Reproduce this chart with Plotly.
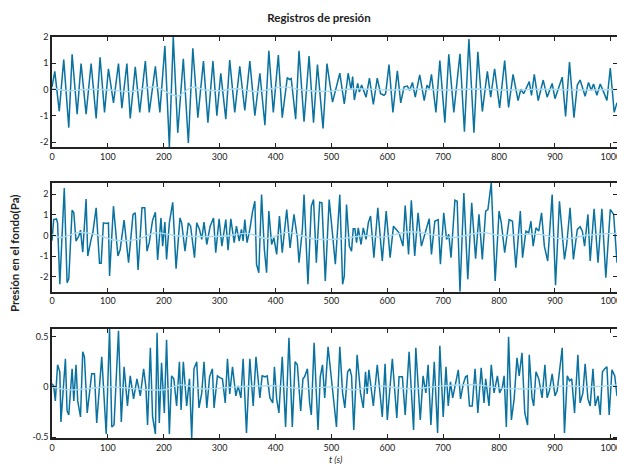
import plotly.graph_objects as go

# ---------------- data ----------------
t1 = [0,5,13,21,30,36,45,52,61,70,79,86,94,101,110,119,125,134,140,149,157,167,174,185,193,
      202,210,217,225,235,244,252,261,271,279,288,295,302,311,318,327,336,345,354,363,372,381,
      388,396,405,412,421,425,428,436,442,451,460,468,475,485,492,502,515,523,530,535,538,541,
      547,550,554,562,568,575,582,588,594,597,603,610,618,624,630,636,640,645,650,658,666,671,
      675,679,687,694,703,710,719,730,738,746,755,762,770,779,785,792,801,810,817,825,834,839,
      844,854,858,863,870,879,886,895,900,913,919,926,934,940,945,954,960,965,969,975,981,987,
      993,999,1006,1011]
p1 = [0.1,0.69,-0.83,1.14,-1.45,1.34,-0.94,0.99,-0.94,0.99,-1.1,1.23,-0.87,0.79,-0.51,0.99,
      -0.71,0.99,-1.1,0.86,-0.87,1.08,-0.87,0.88,-0.87,1.66,-2.19,2.0,-1.65,1.17,-2.04,1.57,
      -1.07,1.08,-1.26,1.08,-1.0,0.62,-1.13,1.12,-0.87,0.88,-0.8,1.08,-1.0,0.62,-1.36,1.47,
      -0.87,1.31,-1.07,0.45,0.38,0.42,-1.13,1.47,-1.23,1.27,-1.26,0.95,-1.48,0.99,-0.48,0.62,
      -0.55,0.62,0.0,0.49,-0.4,0.23,-0.1,0.17,-0.29,0.43,-0.57,0.43,-0.16,-0.22,-0.16,0.95,
      -0.87,0.71,-0.51,0.1,0.13,-0.03,0.27,-0.29,0.56,-0.42,0.17,0.04,0.58,-0.87,1.1,-1.26,
      1.34,-0.87,1.36,-1.61,1.92,-1.65,1.44,-0.84,0.69,-0.29,0.79,-0.7,1.1,-0.68,0.58,-0.42,
      0.01,-0.16,0.3,-0.22,0.58,-0.42,0.36,-0.29,0.23,-0.35,0.47,-1.03,1.05,-1.07,0.17,0.36,
      -0.26,0.27,-0.03,0.21,-0.22,0.21,-0.09,-0.42,0.82,-0.87,-0.5]
t1_low = [0,30,60,90,110,140,185,205,225,250,275,300,330,365,415,450,490,540,600,650,700,760,
          820,880,940,1011]
p1_low = [0.05,-0.05,0.0,0.0,-0.03,-0.08,0.1,-0.1,-0.25,0.08,-0.02,-0.05,0.03,-0.08,0.1,-0.03,
          -0.07,0.03,-0.02,0.02,-0.02,0.02,-0.02,0.01,-0.02,0.0]

t2 = [0,3,8,10,14,22,27,30,36,39,43,48,51,55,61,64,70,73,79,85,88,92,97,101,103,110,118,122,
      129,137,145,149,154,161,166,170,174,180,185,189,195,198,202,205,210,216,222,229,232,238,
      244,248,255,259,264,268,272,277,283,289,293,299,304,308,311,315,320,326,330,335,339,342,
      345,349,354,359,363,366,370,375,380,384,388,393,397,402,407,412,420,426,433,439,442,448,
      451,458,464,468,473,479,483,489,496,502,507,515,520,523,527,532,536,539,542,545,548,553,
      557,562,566,570,576,583,591,598,605,611,616,621,628,632,638,643,649,655,661,669,675,679,
      685,691,695,701,706,710,714,721,725,730,737,744,751,758,764,770,776,780,786,793,800,804,
      810,818,824,830,838,842,848,853,857,861,866,871,876,881,887,895,901,908,917,921,927,933,
      940,945,949,953,959,963,970,977,984,991,999,1005,1011]
p2 = [-0.25,0.77,0.8,0.6,-2.37,2.3,-2.29,-2.1,1.23,1.1,-0.27,-0.03,0.26,-0.81,1.77,-1.0,-0.19,
      0.13,1.34,-1.35,-1.35,0.61,0.58,0.61,-1.97,1.42,-1.0,-0.68,0.74,-1.32,1.02,1.1,-1.68,1.34,
      1.34,-0.76,-0.35,0.74,1.13,-1.19,0.85,-0.52,0.65,-1.16,0.61,1.61,-1.61,0.85,0.61,-0.76,
      0.61,0.45,-1.08,0.61,0.29,-0.19,0.65,-0.44,0.45,0.85,-0.84,0.81,-0.52,0.29,0.77,-0.71,
      0.81,-0.35,0.45,-0.27,0.29,-0.27,0.77,-0.35,0.29,1.18,1.66,-1.4,-1.81,1.98,-0.68,-1.81,
      1.18,-0.44,-0.11,-0.92,0.94,-0.84,1.26,-0.6,1.02,-0.11,-1.32,0.29,1.98,-2.37,1.42,1.74,
      -1.32,1.61,1.58,-2.21,1.74,0.05,-1.4,1.98,-2.37,-1.97,1.5,-0.52,-0.76,0.32,0.32,-0.35,
      0.37,-0.44,0.37,-0.19,0.61,0.94,-1.08,1.34,-1.24,1.18,-1.08,0.45,0.26,0.13,-0.52,1.45,
      -0.92,1.71,-1.0,1.1,-0.52,0.21,0.81,-0.92,0.69,0.77,-1.4,1.1,-0.19,0.05,-1.08,1.71,1.66,
      -2.73,2.06,-2.13,1.58,-1.13,1.02,-1.16,1.18,1.26,2.56,-2.21,1.18,0.61,-0.84,0.77,0.69,
      -1.56,1.18,-1.08,0.21,0.13,0.69,-0.52,0.37,0.21,1.1,-0.52,-1.24,1.98,-2.42,1.66,-1.16,
      -0.44,1.34,-1.16,0.29,0.42,0.21,-0.52,1.02,-1.24,1.29,-1.32,1.29,-2.05,1.26,1.02,-1.32]
t2_low = [0,15,50,85,110,150,185,220,270,310,350,385,420,470,520,560,590,640,690,720,770,800,
          840,875,915,960,1011]
p2_low = [0.05,-0.1,0.15,0.0,-0.22,-0.2,0.12,0.0,-0.05,-0.03,0.1,-0.15,0.15,-0.18,-0.15,0.0,
          -0.08,0.18,0.0,-0.1,0.15,0.0,0.05,0.05,-0.18,0.02,0.1]

t3 = [0,3,6,10,14,16,24,27,30,36,39,43,46,51,55,58,63,67,71,76,80,89,92,97,103,107,111,119,124,
      129,135,140,146,152,158,164,168,171,176,180,185,188,192,196,201,205,210,214,218,223,228,
      231,235,241,246,250,254,259,263,268,272,277,282,287,290,296,301,305,310,314,318,323,329,
      333,338,342,348,354,360,365,372,376,381,385,390,395,398,402,406,412,418,424,430,435,439,
      445,449,452,457,461,464,469,476,480,484,488,494,500,505,509,515,520,524,529,533,536,540,
      546,552,557,561,564,567,575,582,591,596,600,609,617,621,627,632,639,647,651,659,664,669,
      673,678,684,690,694,700,705,709,713,717,722,727,731,736,740,743,747,752,757,762,768,773,
      776,782,786,791,797,801,806,809,813,817,822,827,832,836,841,846,851,854,859,862,866,871,
      877,882,886,890,895,900,904,908,913,917,922,926,930,935,941,945,950,954,959,963,968,972,
      977,981,985,989,993,997,1002,1007,1011]
p3 = [0.03,0.01,-0.14,0.22,0.15,-0.35,0.28,-0.24,-0.28,0.18,-0.14,0.22,-0.14,-0.3,0.35,0.3,
      -0.26,-0.09,0.13,0.13,-0.36,0.3,0.01,-0.47,0.58,-0.4,-0.38,0.56,-0.35,0.2,-0.19,0.11,-0.12,
      0.08,-0.09,0.18,0.0,-0.38,0.39,-0.3,-0.47,0.54,-0.36,0.24,-0.26,0.47,-0.47,0.11,0.08,-0.19,
      0.25,-0.23,0.25,-0.19,0.08,-0.51,0.18,0.25,-0.21,-0.06,0.25,-0.21,0.1,0.18,-0.21,0.11,0.09,
      0.08,-0.16,0.28,-0.07,0.2,-0.09,0.01,-0.11,0.28,-0.46,0.28,-0.19,0.3,-0.11,0.11,0.1,0.11,
      -0.11,-0.16,0.2,-0.12,-0.26,0.3,-0.4,0.49,-0.4,0.25,0.22,-0.24,0.08,0.1,0.18,-0.16,-0.28,
      0.44,-0.43,0.1,0.22,-0.11,0.4,0.08,-0.12,-0.4,0.4,-0.06,-0.21,0.15,0.18,0.11,-0.43,0.32,
      -0.06,-0.21,0.15,-0.07,0.17,-0.19,0.22,-0.3,0.23,-0.33,0.28,-0.31,0.1,0.1,-0.28,0.35,-0.43,
      0.39,-0.33,0.11,-0.06,0.22,-0.38,0.25,-0.46,0.41,-0.3,0.2,-0.19,0.05,-0.11,0.03,0.17,-0.12,
      0.03,0.1,0.11,-0.19,-0.19,0.18,-0.26,0.19,-0.16,0.08,-0.19,0.22,-0.06,0.11,-0.06,0.0,0.11,
      -0.4,0.5,-0.33,-0.12,0.29,0.11,0.34,-0.26,-0.38,0.32,-0.11,-0.19,0.15,0.08,-0.11,0.22,-0.11,
      -0.04,0.13,-0.09,-0.04,0.18,0.39,-0.46,0.11,0.06,0.08,-0.26,0.32,-0.16,-0.06,0.23,-0.12,
      -0.19,0.18,-0.19,-0.09,-0.28,0.15,0.18,0.2,-0.28,0.17,0.11,-0.09]
t3_low = [0,30,60,100,150,200,230,270,330,400,450,500,540,580,640,700,760,800,860,920,960,1011]
p3_low = [0.0,-0.03,-0.02,0.0,-0.02,-0.03,0.02,-0.02,0.0,0.01,-0.02,0.0,-0.03,0.01,-0.02,0.01,
          0.02,-0.01,-0.02,0.01,0.0,0.02]

x_ticks = [0,100,200,300,400,500,600,700,800,900,1000]
x_ticktext = [str(v) for v in x_ticks]
y_ticks_12 = [-2,-1,0,1,2]
y_ticktext_12 = ["-2","-1","0","1","2"]
y_ticks_3 = [-0.5,0,0.5]
y_ticktext_3 = ["-0.5","0","0.5"]

title_text = "Registros de presión"
ytitle_text = "Presión en el fondo(Pa)"
xtitle_text = "t (s)"

# ---------------- figure ----------------
DARK = "#0a72a0"
LIGHT = "#a9dcf2"
FONT = "Lato"
AXC = "#222222"

fig = go.Figure()
series = [(t1, p1, t1_low, p1_low, "x", "y"),
          (t2, p2, t2_low, p2_low, "x2", "y2"),
          (t3, p3, t3_low, p3_low, "x3", "y3")]
for tt, pp, tl, pl, xa, ya in series:
    fig.add_trace(go.Scatter(x=tt, y=pp, mode="lines", xaxis=xa, yaxis=ya,
                             line=dict(color=DARK, width=1.5), showlegend=False))
    fig.add_trace(go.Scatter(x=tl, y=pl, mode="lines", xaxis=xa, yaxis=ya,
                             line=dict(color=LIGHT, width=1.4, shape="spline"),
                             showlegend=False))

W, H = 617, 464
ml, mr, mt, mb = 52, 0, 37, 26
ph = H - mt - mb

def dom(top_px, bot_px):
    return [(H - mb - bot_px) / ph, (H - mb - top_px) / ph]

common_x = dict(range=[0, 1011], tickvals=x_ticks, ticktext=x_ticktext, ticks="inside",
                ticklen=4, tickwidth=1.2, tickcolor=AXC, showline=True, linecolor=AXC,
                linewidth=1.6, mirror="ticks", showgrid=False, zeroline=False,
                automargin=False, ticklabeloverflow="allow",
                tickfont=dict(size=9, color=AXC, family=FONT))
common_y = dict(ticks="inside", ticklen=4, tickwidth=1.2, tickcolor=AXC, showline=True,
                linecolor=AXC, linewidth=1.6, mirror="ticks", showgrid=False,
                zeroline=False, automargin=False, tickfont=dict(size=9, color=AXC, family=FONT))

fig.update_layout(
    width=W, height=H, margin=dict(l=ml, r=mr, t=mt, b=mb),
    paper_bgcolor="white", plot_bgcolor="white",
    font=dict(family=FONT, color=AXC),
    title=dict(text="<b>" + title_text + "</b>", x=319 / W, xanchor="center",
               y=1 - 18 / H, yanchor="middle", font=dict(size=11.5, family=FONT, color=AXC)),
    xaxis=dict(common_x, domain=[0, 1], anchor="y"),
    xaxis2=dict(common_x, domain=[0, 1], anchor="y2"),
    xaxis3=dict(common_x, domain=[0, 1], anchor="y3"),
    yaxis=dict(common_y, domain=dom(37, 147), anchor="x", range=[min(p1), max(p1)],
               tickvals=y_ticks_12, ticktext=y_ticktext_12),
    yaxis2=dict(common_y, domain=dom(182.7, 291.7), anchor="x2", range=[min(p2), max(p2)],
                tickvals=y_ticks_12, ticktext=y_ticktext_12),
    yaxis3=dict(common_y, domain=dom(328.7, 438), anchor="x3", range=[min(p3), max(p3)],
                tickvals=y_ticks_3, ticktext=y_ticktext_3),
    annotations=[
        dict(text="<b>" + ytitle_text + "</b>", textangle=-90, xref="paper", yref="paper",
             x=(15 - ml) / (W - ml - mr), y=(H - mb - 254) / ph, xanchor="center",
             yanchor="middle", showarrow=False, font=dict(size=11.5, family=FONT, color=AXC)),
        dict(text="<i>" + xtitle_text + "</i>", xref="paper", yref="paper",
             x=(335 - ml) / (W - ml - mr), y=(H - mb - 452) / ph, xanchor="center",
             yanchor="top", showarrow=False, font=dict(size=9, family=FONT, color=AXC)),
    ],
)

fig.write_html("out.html", config={"displayModeBar": False},
               post_script="document.body.style.margin='0';document.body.style.overflow='hidden';")
